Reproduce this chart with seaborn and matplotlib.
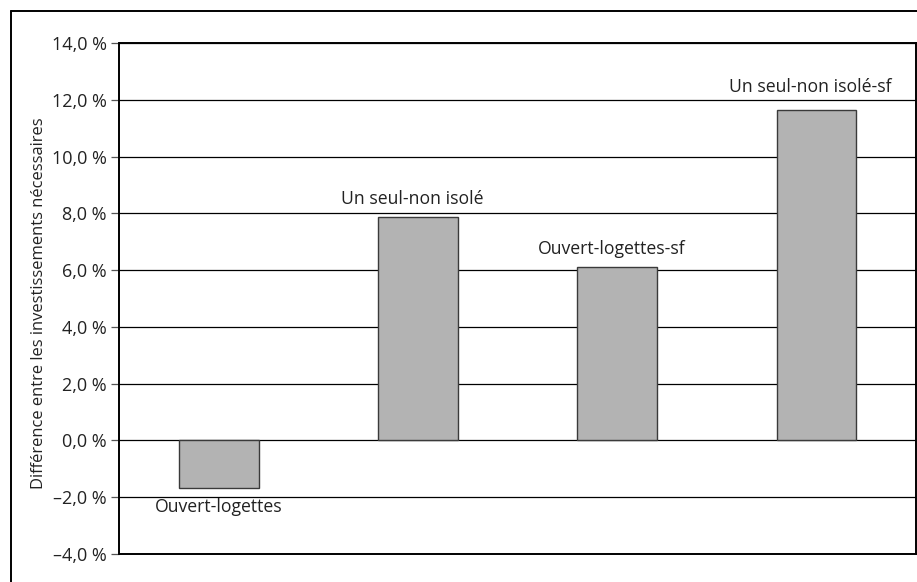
import matplotlib
matplotlib.use("Agg")
import matplotlib.pyplot as plt
import seaborn as sns
import pandas as pd
from matplotlib.lines import Line2D

categories = ["Ouvert-logettes", "Un seul-non isolé", "Ouvert-logettes-sf", "Un seul-non isolé-sf"]
values = [-1.67, 7.88, 6.10, 11.65]
yticks = [-4, -2, 0, 2, 4, 6, 8, 10, 12, 14]
ytick_labels = ["–4,0 %", "–2,0 %", "0,0 %", "2,0 %", "4,0 %", "6,0 %", "8,0 %", "10,0 %", "12,0 %", "14,0 %"]
ylabel = "Différence entre les investissements nécessaires"

sns.set_theme(style="white")
plt.rcParams["font.family"] = ["Open Sans", "DejaVu Sans"]

df = pd.DataFrame({"cat": categories, "val": values})

fig = plt.figure(figsize=(9.17, 5.82), dpi=100)
ax = fig.add_axes([119.5 / 917, 1 - 553.7 / 582, (916 - 119.5) / 917, (553.7 - 43.3) / 582])

sns.barplot(data=df, x="cat", y="val", ax=ax, color="#b3b3b3", width=0.4,
            edgecolor="#3a3a3a", linewidth=1.0, saturation=1, zorder=3)

ax.set_ylim(-4, 14)
ax.set_xlim(-0.5, 3.5)
ax.set_yticks(yticks)
ax.set_yticklabels(ytick_labels, fontsize=13, color="#222222")
ax.set_xticks([])
ax.set_xlabel("")
ax.set_ylabel(ylabel, fontsize=11.9, color="#222222", labelpad=8)
ax.yaxis.set_label_coords(-72 / 796.5, 0.49)
ax.yaxis.grid(True, color="black", linewidth=0.9, zorder=0)
ax.set_axisbelow(True)
ax.tick_params(axis="y", length=6, width=0.9, color="#555555", left=True, pad=3)
for s in ax.spines.values():
    s.set_color("black")
    s.set_linewidth(1.4)

for i, (c, v) in enumerate(zip(categories, values)):
    if v < 0:
        ax.annotate(c, (i, v), xytext=(0, -19), textcoords="offset pixels",
                    ha="center", va="center", fontsize=12.7, color="#222222")
    else:
        off = 23 if i == 3 else 18
        ax.annotate(c, (i - 0.03, v), xytext=(0, off), textcoords="offset pixels",
                    ha="center", va="center", fontsize=12.7, color="#222222")

# figure frame
fig.add_artist(Line2D([10.5 / 917, 10.5 / 917], [0, 1 - 10.5 / 582], transform=fig.transFigure,
                      color="black", linewidth=1.4))
fig.add_artist(Line2D([10.5 / 917, 1], [1 - 10.5 / 582, 1 - 10.5 / 582], transform=fig.transFigure,
                      color="black", linewidth=1.4))

fig.savefig("out.png", dpi=100, facecolor="white")
